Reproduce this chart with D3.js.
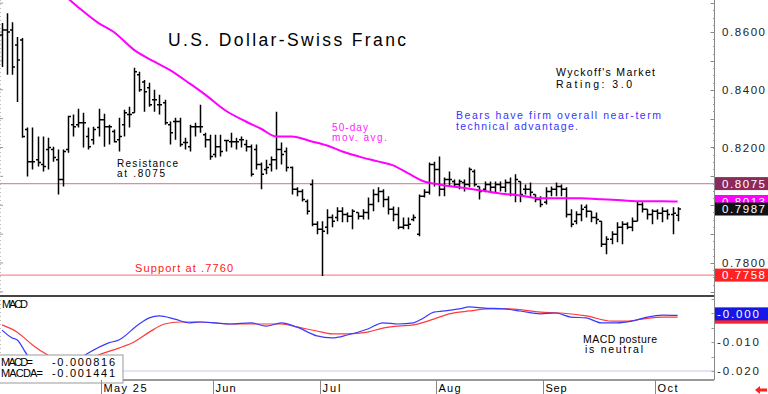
<!DOCTYPE html>
<html><head><meta charset="utf-8">
<script src="https://cdn.jsdelivr.net/npm/d3@7"></script>
<style>body{margin:0;background:#fff;overflow:hidden}svg{display:block}</style>
</head><body><svg id="c" width="768" height="394"></svg>
<script>
// ---------- DATA ----------
const startDate = "2025-04-03";
const barCount = 134;
const opens = [.8590,.8607,.8607,.8555,.8572,.8262,.8151,.8158,.8141,.8193,
.8193,.8158,.8089,.8193,.8279,.8279,.8286,.8238,.8227,.8269,
.8296,.8272,.8255,.8227,.8279,.8314,.8320,.8452,.8427,.8407,
.8365,.8348,.8355,.8279,.8290,.8290,.8217,.8203,.8272,.8272,
.8244,.8227,.8176,.8203,.8224,.8220,.8220,.8227,.8210,.8203,
.8193,.8141,.8124,.8141,.8158,.8193,.8186,.8131,.8055,.8048,
.8013,.8072,.7934,.7917,.7924,.7958,.7958,.7979,.7968,.7962,
.7975,.7962,.7975,.8003,.8037,.8048,.8020,.7986,.7968,.7924,
.7931,.7951,.7900,.8031,.8045,.8141,.8124,.8055,.8089,.8082,
.8072,.8079,.8072,.8117,.8065,.8055,.8072,.8062,.8072,.8062,
.8079,.8037,.8082,.8055,.8055,.8037,.8020,.8010,.8048,.8055,
.8065,.8055,.7968,.7945,.7968,.7993,.7979,.7958,.7945,.7865,
.7882,.7900,.7924,.7934,.7924,.7945,.8003,.7986,.7968,.7979,
.7972,.7979,.7968,.7965];
const highs = [.8631,.8665,.8634,.8583,.8579,.8269,.8269,.8238,.8238,.8234,
.8203,.8193,.8193,.8310,.8314,.8334,.8320,.8269,.8272,.8334,
.8317,.8279,.8262,.8303,.8331,.8341,.8476,.8462,.8434,.8424,
.8400,.8383,.8365,.8290,.8303,.8303,.8234,.8279,.8286,.8348,
.8251,.8244,.8244,.8244,.8227,.8251,.8234,.8238,.8227,.8210,
.8210,.8148,.8158,.8169,.8324,.8217,.8200,.8134,.8062,.8055,
.8020,.8089,.7945,.7945,.7986,.7968,.7993,.7993,.7975,.7986,
.7975,.7986,.8027,.8055,.8062,.8055,.8031,.7996,.7993,.7958,
.7958,.7968,.8037,.8055,.8148,.8151,.8169,.8096,.8117,.8089,
.8089,.8089,.8131,.8124,.8065,.8082,.8082,.8082,.8082,.8089,
.8096,.8107,.8082,.8072,.8079,.8037,.8031,.8062,.8065,.8079,
.8072,.8062,.7986,.7979,.8003,.8003,.7979,.7975,.7945,.7893,
.7910,.7941,.7945,.7941,.7958,.8013,.8010,.7986,.7986,.7986,
.7993,.7986,.7993,.7993];
const lows = [.8479,.8452,.8452,.8358,.8234,.8100,.8124,.8134,.8117,.8124,
.8151,.8037,.8065,.8182,.8238,.8269,.8200,.8193,.8210,.8238,
.8203,.8210,.8217,.8186,.8238,.8269,.8320,.8393,.8324,.8341,
.8324,.8314,.8279,.8210,.8227,.8203,.8193,.8186,.8238,.8251,
.8200,.8158,.8165,.8169,.8186,.8200,.8193,.8200,.8186,.8100,
.8124,.8055,.8107,.8117,.8124,.8141,.8117,.8037,.8031,.8013,
.7968,.7927,.7900,.7755,.7900,.7924,.7945,.7941,.7941,.7917,
.7951,.7951,.7951,.7979,.8010,.7993,.7968,.7945,.7917,.7917,
.7917,.7945,.7893,.8027,.8037,.8065,.8031,.8031,.8065,.8062,
.8055,.8048,.8062,.8065,.8020,.8045,.8045,.8045,.8048,.8045,
.8031,.8010,.8010,.8037,.8027,.8010,.7993,.8003,.8031,.8031,
.8031,.7958,.7924,.7934,.7945,.7958,.7941,.7934,.7855,.7830,
.7865,.7872,.7865,.7917,.7910,.7945,.7975,.7951,.7934,.7951,
.7941,.7951,.7900,.7945];
const closes = [.8607,.8600,.8479,.8503,.8238,.8151,.8151,.8148,.8134,.8200,
.8165,.8089,.8186,.8307,.8272,.8286,.8286,.8203,.8262,.8296,
.8272,.8272,.8220,.8238,.8320,.8314,.8462,.8400,.8393,.8348,
.8365,.8348,.8286,.8251,.8290,.8210,.8217,.8272,.8272,.8272,
.8227,.8169,.8203,.8186,.8224,.8220,.8220,.8227,.8203,.8107,
.8141,.8107,.8131,.8158,.8193,.8176,.8131,.8055,.8048,.8020,
.7979,.7934,.7917,.7910,.7958,.7945,.7979,.7968,.7962,.7979,
.7962,.7975,.8003,.8037,.8048,.8020,.7986,.7968,.7924,.7931,
.7934,.7958,.8031,.8045,.8141,.8124,.8055,.8089,.8089,.8072,
.8082,.8072,.8124,.8072,.8048,.8072,.8062,.8072,.8062,.8079,
.8037,.8089,.8037,.8055,.8045,.8020,.8003,.8048,.8055,.8065,
.8055,.7968,.7934,.7968,.7986,.7979,.7958,.7951,.7865,.7882,
.7900,.7924,.7934,.7924,.7945,.8003,.7986,.7968,.7979,.7972,
.7979,.7968,.7972,.7987];
// 50-day moving average (read at bar indices)
const maIdx = [12,15,19,22,26,30,33,37,40,44,48,51,54,57,61,64,67,71,74,77,80,83,86,90,94,98,102,106,110,114,118,122,126,130,133];
const maVals = [.8731,.8686,.8631,.8600,.8538,.8497,.8469,.8421,.8383,.8328,.8290,.8265,.8238,.8238,.8221,.8207,.8186,.8165,.8152,.8138,.8110,.8083,.8072,.8062,.8052,.8041,.8034,.8024,.8024,.8024,.8021,.8017,.8014,.8014,.8013];
// MACD and its average
const macdIdx = [0,2,3,5,8,11,14,16,21,23,27,29,31,34,37,39,42,45,49,52,55,58,62,65,68,72,75,78,81,83,85,87,90,92,95,99,102,106,109,112,115,118,121,124,127,130,133];
const macdVals = [-0.0059,-0.0086,-0.0093,-0.0145,-0.0179,-0.0190,-0.0169,-0.0148,-0.0103,-0.0093,-0.0038,-0.0017,-0.0010,-0.0021,-0.0034,-0.0031,-0.0034,-0.0038,-0.0034,-0.0045,-0.0034,-0.0048,-0.0079,-0.0086,-0.0076,-0.0055,-0.0034,-0.0038,-0.0034,-0.0017,0.0003,0.0007,0.0014,0.0021,0.0017,0.0014,0.0007,-0.0003,0.0000,-0.0014,-0.0017,-0.0034,-0.0034,-0.0028,-0.0014,-0.0007,-0.000816];
const sigIdx = [0,3,6,9,12,15,17,19,23,26,29,32,35,39,45,52,55,58,62,65,68,72,75,78,81,85,88,92,96,100,106,110,115,120,123,126,130,133];
const sigVals = [-0.0041,-0.0066,-0.0110,-0.0145,-0.0169,-0.0172,-0.0162,-0.0145,-0.0121,-0.0100,-0.0066,-0.0038,-0.0031,-0.0031,-0.0038,-0.0038,-0.0038,-0.0048,-0.0062,-0.0072,-0.0072,-0.0066,-0.0052,-0.0045,-0.0041,-0.0021,-0.0003,0.0007,0.0014,0.0014,0.0003,0.0000,-0.0010,-0.0028,-0.0028,-0.0021,-0.0014,-0.001441];
const priceTicks = [0.86, 0.84, 0.82, 0.78];
const macdTicks = [-0.01, -0.02];
const monthLabels = ["May 25","Jun","Jul","Aug","Sep","Oct"];
const resistance = 0.8075, support = 0.7758;

// ---------- SETUP ----------
const svg = d3.select("#c");
const FONT = '"Liberation Sans", Arial, sans-serif';
const x = d3.scaleLinear().domain([0, barCount-1]).range([2, 677.6]);
const y = d3.scaleLinear().domain([0.78, 0.86]).range([263, 32]);
const ym = d3.scaleLinear().domain([-0.02, 0]).range([371, 313]);
const AX = 714.5;

const dates = [];
{ let d = new Date(startDate + "T12:00:00Z");
  while (dates.length < barCount) { const wd = d.getUTCDay(); if (wd > 0 && wd < 6) dates.push(new Date(d)); d.setUTCDate(d.getUTCDate()+1); } }

function fmtTrunc(v, n) {
  const p = Math.pow(10, n);
  const t = Math.trunc(v * p) / p;
  return (v < 0 ? "-" : "") + Math.abs(t).toFixed(n);
}
function txt(g, px, py, s, size, color, width, anchor) {
  const t = g.append("text").attr("x", px).attr("y", py).text(s)
    .attr("font-family", FONT).attr("font-size", size).attr("fill", color || "#000");
  if (width) t.attr("textLength", width).attr("lengthAdjust", "spacing");
  if (anchor) t.attr("text-anchor", anchor);
  return t;
}

svg.append("rect").attr("width", 768).attr("height", 394).attr("fill", "#fff");
svg.append("defs").append("clipPath").attr("id", "mainclip").append("rect").attr("x", 0).attr("y", 0).attr("width", 714).attr("height", 295);

// left small ticks
const leftT = d3.range(0.77, 0.871, 0.01);
svg.append("g").selectAll("line").data(leftT).join("line")
  .attr("x1", 0).attr("x2", 3).attr("y1", d => y(d)).attr("y2", d => y(d)).attr("stroke", "#999");
svg.append("line").attr("x1", 0.5).attr("x2", 0.5).attr("y1", 0).attr("y2", 380).attr("stroke", "#bbb").attr("stroke-dasharray", "1,3");

// horizontal levels
svg.append("line").attr("x1", 0).attr("x2", 714).attr("y1", y(resistance)).attr("y2", y(resistance)).attr("stroke", "#de8ab4").attr("stroke-width", 1.3);
svg.append("line").attr("x1", 0).attr("x2", 714).attr("y1", y(support)).attr("y2", y(support)).attr("stroke", "#ff8a8a").attr("stroke-width", 1.3);

// main text
const gt = svg.append("g");
txt(gt, 168, 46, "U.S. Dollar-Swiss Franc", 17.5, "#000", 238);
txt(gt, 556, 76, "Wyckoff's Market", 10.5, "#000", 99);
txt(gt, 556, 88, "Rating: 3.0", 10.5, "#000", 76);
txt(gt, 456, 119, "Bears have firm overall near-term", 10.5, "#3535ff", 205);
txt(gt, 456, 130, "technical advantage.", 10.5, "#3535ff", 122);
txt(gt, 332, 130.5, "50-day", 10, "#ff22ff", 36);
txt(gt, 332, 141, "mov. avg.", 10, "#ff22ff", 55);
txt(gt, 117, 166.5, "Resistance", 10, "#000", 61);
txt(gt, 117, 177, "at .8075", 10, "#000", 48);
txt(gt, 135, 272, "Support at .7760", 11, "#ff2020", 98);

// bars
const gp = svg.append("g").attr("clip-path", "url(#mainclip)");
gp.append("g").selectAll("path").data(d3.range(barCount)).join("path")
  .attr("d", i => {
    const cx = Math.round(x(i)) + 0.5;
    return `M${cx},${y(highs[i])}V${y(lows[i])}M${cx-2.5},${y(opens[i])}H${cx}M${cx},${y(closes[i])}H${cx+2.5}`;
  })
  .attr("stroke", "#000").attr("stroke-width", 1.5).attr("fill", "none");

// moving average
const maLine = d3.line().x((d, k) => x(maIdx[k])).y(d => y(d)).curve(d3.curveMonotoneX);
gp.append("path").attr("d", maLine(maVals)).attr("fill", "none").attr("stroke", "#ff00ff").attr("stroke-width", 2);

// main panel bottom
svg.append("line").attr("x1", 0).attr("x2", 714).attr("y1", 296).attr("y2", 296).attr("stroke", "#444").attr("stroke-width", 2);

// MACD panel
svg.append("line").attr("x1", 0).attr("x2", 714).attr("y1", ym(-0.02)).attr("y2", ym(-0.02)).attr("stroke", "#c8c8f2").attr("stroke-width", 1);
const mLine = d3.line().y(d => ym(d)).curve(d3.curveMonotoneX);
svg.append("path").attr("d", mLine.x((d, k) => x(sigIdx[k]))(sigVals)).attr("fill", "none").attr("stroke", "#ff3a3a").attr("stroke-width", 1.2);
svg.append("path").attr("d", mLine.x((d, k) => x(macdIdx[k]))(macdVals)).attr("fill", "none").attr("stroke", "#3a3aff").attr("stroke-width", 1.2);
txt(svg, 2, 308, "MACD", 11, "#000", 26);
txt(svg, 583, 342.5, "MACD posture", 10.5, "#000", 74);
txt(svg, 585, 353, "is neutral", 10.5, "#000", 58);
svg.append("line").attr("x1", 0).attr("x2", 714).attr("y1", 380).attr("y2", 380).attr("stroke", "#777").attr("stroke-width", 1.5);

// MACD readout box
svg.append("rect").attr("x", -1).attr("y", 355).attr("width", 124).attr("height", 28).attr("fill", "#fff").attr("stroke", "#999");
txt(svg, 1, 366, "MACD=", 11, "#000", 32);
txt(svg, 52, 366, fmtTrunc(macdVals[macdVals.length-1], 6), 11, "#000", 63);
txt(svg, 1, 377, "MACDA=", 11, "#000", 42);
txt(svg, 52, 377, fmtTrunc(sigVals[sigVals.length-1], 6), 11, "#000", 63);

// right axis
svg.append("line").attr("x1", AX).attr("x2", AX).attr("y1", 0).attr("y2", 380).attr("stroke", "#888");
svg.append("g").selectAll("line").data(d3.range(0.7725, 0.871, 0.0025)).join("line")
  .attr("x1", AX - 1.5).attr("x2", AX).attr("y1", d => Math.round(y(d)) + 0.5).attr("y2", d => Math.round(y(d)) + 0.5).attr("stroke", "#999");
svg.append("g").selectAll("line").data(d3.range(0.77, 0.871, 0.01)).join("line")
  .attr("x1", AX - 4).attr("x2", AX).attr("y1", d => Math.round(y(d)) + 0.5).attr("y2", d => Math.round(y(d)) + 0.5).attr("stroke", "#888");
svg.append("g").selectAll("line").data(d3.range(-0.02, 0.0051, 0.005)).join("line")
  .attr("x1", AX - 3).attr("x2", AX).attr("y1", d => Math.round(ym(d)) + 0.5).attr("y2", d => Math.round(ym(d)) + 0.5).attr("stroke", "#999");
priceTicks.forEach(v => txt(svg, 722, y(v) + 4.2, d3.format(".4f")(v), 11.5, "#222", 43));
macdTicks.forEach(v => txt(svg, 717, ym(v) + 4.2, fmtTrunc(v, 3), 11.5, "#222", 42));

function box(v, scale, color, label, tcol) {
  const cy = scale(v);
  svg.append("rect").attr("x", AX + 0.5).attr("y", cy - 6.5).attr("width", 768 - AX).attr("height", 13).attr("fill", color);
  txt(svg, 722, cy + 4.3, label, 11.5, tcol || "#fff", 43);
}
box(resistance, y, "#8c2a5c", d3.format(".4f")(resistance));
box(maVals[maVals.length-1], y, "#ff00ff", d3.format(".4f")(maVals[maVals.length-1]));
box(closes[closes.length-1], y, "#111", d3.format(".4f")(closes[closes.length-1]));
box(support, y, "#ff2222", d3.format(".4f")(support));
// MACD value boxes
{
  const cs = ym(sigVals[sigVals.length-1]);
  svg.append("rect").attr("x", AX + 0.5).attr("y", cs - 6.5).attr("width", 768 - AX).attr("height", 13).attr("fill", "#ff2222");
  const cm = ym(macdVals[macdVals.length-1]) - 1.5;
  svg.append("rect").attr("x", AX + 0.5).attr("y", cm - 6.5).attr("width", 768 - AX).attr("height", 13).attr("fill", "#1616e6");
  txt(svg, 717, cm + 4.3, fmtTrunc(macdVals[macdVals.length-1], 3), 11.5, "#fff", 42);
}

// bottom date axis
const monthStarts = d3.range(1, barCount).filter(i => dates[i].getUTCMonth() !== dates[i-1].getUTCMonth());
const gx = svg.append("g");
monthStarts.forEach((i, k) => {
  const tx = Math.round(x(i) - 2.5) + 0.5;
  gx.append("line").attr("x1", tx).attr("x2", tx).attr("y1", 380).attr("y2", 394).attr("stroke", "#888");
  const lab = monthLabels[k];
  const wid = {"May 25":43,"Jun":20,"Jul":18,"Aug":22,"Sep":21,"Oct":20}[lab];
  txt(gx, tx + 2, 392, lab, 11, "#000", wid);
});
// red arrow marker
svg.append("path").attr("d", "M755,390L760,386L760,388.5L767,388.5L767,391.5L760,391.5L760,394Z").attr("fill", "#ff2020");
</script></body></html>
